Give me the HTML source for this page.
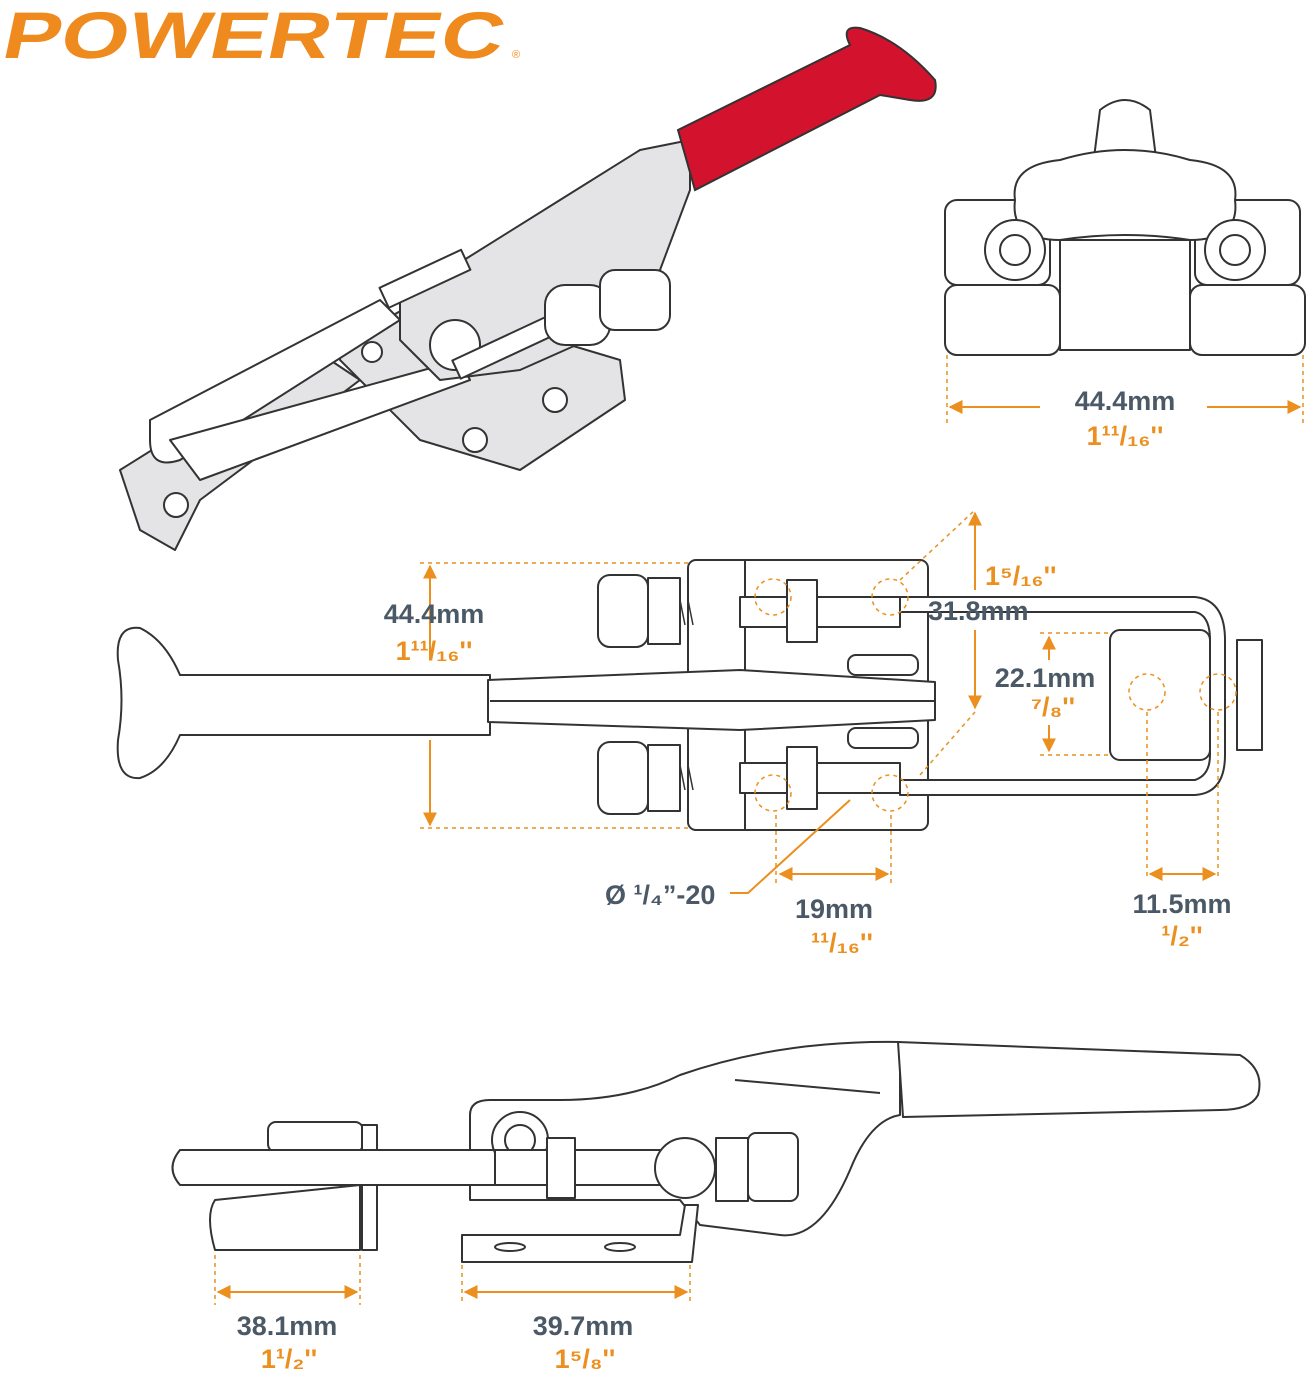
<!DOCTYPE html>
<html><head><meta charset="utf-8"><style>
html,body{margin:0;padding:0;background:#fff}
svg{display:block}
.g{fill:#4b5966;font-family:"Liberation Sans",sans-serif;font-weight:bold;font-size:27px}
.o{fill:#eb8f1e;font-family:"Liberation Sans",sans-serif;font-weight:bold;font-size:27px}
.dl{stroke:#eb8f1e;stroke-width:2;fill:none}
.dd{stroke:#eb8f1e;stroke-width:1.5;stroke-dasharray:4 4;fill:none}
.p{fill:#fff;stroke:#333;stroke-width:2;stroke-linejoin:round}
.s{fill:#e4e4e6;stroke:#333;stroke-width:2;stroke-linejoin:round}
</style></head><body>
<svg width="1306" height="1376" viewBox="0 0 1306 1376" xmlns="http://www.w3.org/2000/svg">
<defs>
<marker id="a" viewBox="0 0 10 10" refX="9" refY="5" markerWidth="7" markerHeight="7" orient="auto-start-reverse"><path d="M0,0L10,5L0,10z" fill="#eb8f1e"/></marker>
</defs>
<!-- logo -->
<text x="2" y="58" transform="skewX(-12) translate(10,0)" font-family="Liberation Sans,sans-serif" font-weight="bold" font-size="66" fill="#ef8a1e" textLength="500" lengthAdjust="spacingAndGlyphs">POWERTEC</text>
<text x="512" y="58" font-family="Liberation Sans,sans-serif" font-size="11" fill="#ef8a1e">®</text>

<!-- top-left 3D clamp -->
<polygon class="s" points="120,470 160,445 330,360 360,380 200,500 175,550 140,530"/>
<circle cx="176" cy="505" r="12" class="p"/>
<polygon class="s" points="340,345 420,300 620,360 625,400 520,470 420,440 340,360"/>
<circle cx="372" cy="352" r="10" class="p"/><circle cx="475" cy="440" r="12" class="p"/><circle cx="555" cy="400" r="12" class="p"/>
<path class="p" d="M150,420 L380,300 L400,320 L180,460 Q150,470 150,440z"/>
<path class="p" d="M170,440 L460,360 L470,380 L200,480z"/>
<path class="s" d="M400,300 L560,200 L640,150 L690,140 L690,190 L660,270 L610,330 L520,370 L440,380 L400,340z"/>
<circle cx="455" cy="345" r="25" class="p"/>
<rect x="380" y="270" width="90" height="22" class="p" transform="rotate(-25 420 280)"/>
<rect x="450" y="330" width="140" height="20" class="p" transform="rotate(-25 520 340)"/>
<rect x="545" y="285" width="65" height="60" rx="20" class="p"/>
<rect x="600" y="270" width="70" height="60" rx="15" class="p"/>
<path d="M678,130 L850,45 Q840,25 860,28 Q900,40 935,80 Q940,105 910,100 L880,95 L695,190 Z" fill="#d3122d" stroke="#333" stroke-width="2"/>

<!-- top-right end view -->
<rect x="945" y="200" width="105" height="85" rx="12" class="p"/>
<rect x="1195" y="200" width="105" height="85" rx="12" class="p"/>
<rect x="945" y="285" width="115" height="70" rx="12" class="p"/>
<rect x="1190" y="285" width="115" height="70" rx="12" class="p"/>
<rect x="1060" y="240" width="130" height="110" class="p"/>
<path class="p" d="M1090,190 L1100,110 Q1125,90 1150,110 L1160,190z"/>
<path class="p" d="M1015,200 Q1010,165 1060,160 Q1125,140 1190,160 Q1240,165 1235,200 Q1240,240 1190,240 Q1125,230 1060,240 Q1010,240 1015,200z"/>
<circle cx="1015" cy="250" r="30" class="p"/><circle cx="1015" cy="250" r="15" class="p"/>
<circle cx="1235" cy="250" r="30" class="p"/><circle cx="1235" cy="250" r="15" class="p"/>
<line class="dd" x1="947" y1="355" x2="947" y2="425"/><line class="dd" x1="1303" y1="355" x2="1303" y2="425"/>
<line class="dl" x1="1040" y1="407" x2="950" y2="407" marker-end="url(#a)"/>
<line class="dl" x1="1207" y1="407" x2="1300" y2="407" marker-end="url(#a)"/>
<text class="g" x="1125" y="410" text-anchor="middle">44.4mm</text>
<text class="o" x="1125" y="445" text-anchor="middle">1¹¹/₁₆''</text>

<!-- middle top view -->
<path class="p" d="M490,675 L180,675 Q165,640 140,628 Q115,625 118,660 Q125,700 118,740 Q115,780 140,778 Q165,770 180,735 L490,735z"/>
<rect x="688" y="560" width="240" height="270" rx="8" class="p"/>
<line x1="745" y1="560" x2="745" y2="830" stroke="#333" stroke-width="2"/>
<path class="p" d="M900,597 L1195,597 Q1225,600 1225,640 L1225,755 Q1225,793 1195,795 L900,795 L900,780 L1195,780 Q1210,775 1210,755 L1210,640 Q1210,615 1195,612 L900,612z"/>
<rect x="1110" y="630" width="100" height="130" rx="10" class="p"/>
<rect x="1237" y="640" width="25" height="110" class="p"/>
<path class="p" d="M488,680 L740,670 L935,682 L935,720 L740,730 L488,722z"/>
<line x1="490" y1="701" x2="935" y2="701" stroke="#333" stroke-width="2"/>
<rect x="848" y="655" width="70" height="20" rx="8" class="p"/><rect x="848" y="728" width="70" height="20" rx="8" class="p"/>
<rect x="598" y="575" width="50" height="72" rx="12" class="p"/><rect x="648" y="578" width="32" height="66" class="p"/>
<rect x="598" y="742" width="50" height="72" rx="12" class="p"/><rect x="648" y="745" width="32" height="66" class="p"/>
<rect x="740" y="597" width="160" height="30" class="p"/><rect x="787" y="580" width="30" height="62" class="p"/>
<rect x="740" y="763" width="160" height="30" class="p"/><rect x="787" y="747" width="30" height="62" class="p"/>
<g stroke="#333" stroke-width="1.5">
<path d="M680,600 l5,25 M688,600 l5,25"/><path d="M680,765 l5,25 M688,765 l5,25"/>
</g>
<g class="dd"><circle cx="773" cy="597" r="18"/><circle cx="890" cy="597" r="18"/><circle cx="773" cy="793" r="18"/><circle cx="890" cy="793" r="18"/>
<circle cx="1147" cy="692" r="18"/><circle cx="1218" cy="692" r="18"/></g>
<line class="dd" x1="420" y1="563" x2="690" y2="563"/><line class="dd" x1="420" y1="828" x2="690" y2="828"/>
<line class="dl" x1="430" y1="660" x2="430" y2="566" marker-end="url(#a)"/><line class="dl" x1="430" y1="740" x2="430" y2="825" marker-end="url(#a)"/>
<text class="g" x="434" y="623" text-anchor="middle">44.4mm</text><text class="o" x="434" y="660" text-anchor="middle">1¹¹/₁₆''</text>
<line class="dd" x1="900" y1="580" x2="975" y2="510"/><line class="dd" x1="920" y1="775" x2="975" y2="712"/>
<line class="dl" x1="975" y1="590" x2="975" y2="513" marker-end="url(#a)"/><line class="dl" x1="975" y1="630" x2="975" y2="708" marker-end="url(#a)"/>
<text class="o" x="985" y="585">1⁵/₁₆''</text><text class="g" x="928" y="620">31.8mm</text>
<line class="dd" x1="1040" y1="633" x2="1110" y2="633"/><line class="dd" x1="1040" y1="755" x2="1110" y2="755"/>
<line class="dl" x1="1049" y1="660" x2="1049" y2="637" marker-end="url(#a)"/><line class="dl" x1="1049" y1="725" x2="1049" y2="751" marker-end="url(#a)"/>
<text class="g" x="1045" y="687" text-anchor="middle">22.1mm</text><text class="o" x="1053" y="716" text-anchor="middle">⁷/₈''</text>
<line class="dd" x1="776" y1="815" x2="776" y2="885"/><line class="dd" x1="891" y1="815" x2="891" y2="885"/>
<line class="dl" x1="780" y1="874" x2="888" y2="874" marker-start="url(#a)" marker-end="url(#a)"/>
<text class="g" x="834" y="918" text-anchor="middle">19mm</text><text class="o" x="842" y="952" text-anchor="middle">¹¹/₁₆''</text>
<line class="dd" x1="1147" y1="712" x2="1147" y2="880"/><line class="dd" x1="1218" y1="712" x2="1218" y2="880"/>
<line class="dl" x1="1150" y1="874" x2="1215" y2="874" marker-start="url(#a)" marker-end="url(#a)"/>
<text class="g" x="1182" y="913" text-anchor="middle">11.5mm</text><text class="o" x="1182" y="945" text-anchor="middle">¹/₂''</text>
<polyline class="dl" stroke-width="1.5" points="730,893 748,893 850,800"/>
<text class="g" x="605" y="904">Ø ¹/₄”-20</text>

<!-- bottom side view -->
<path class="p" d="M215,1200 L360,1185 L360,1250 L215,1250 Q205,1215 215,1200z"/>
<rect x="268" y="1122" width="95" height="30" rx="8" class="p"/>
<rect x="362" y="1125" width="15" height="125" class="p"/>
<path class="p" d="M470,1115 Q470,1100 490,1100 L560,1100 Q630,1100 680,1075 Q780,1040 900,1042 L900,1115 Q870,1120 850,1170 Q820,1240 780,1235 L700,1225 L680,1200 L470,1200z"/>
<path class="p" d="M898,1042 L1240,1055 Q1265,1070 1258,1095 Q1250,1110 1220,1110 L903,1117z"/>
<line x1="735" y1="1080" x2="880" y2="1093" stroke="#333" stroke-width="2"/>
<path class="p" d="M462,1235 L680,1235 L685,1205 L698,1205 L692,1262 L462,1262z"/>
<ellipse cx="510" cy="1247" rx="15" ry="4" class="p"/><ellipse cx="620" cy="1247" rx="15" ry="4" class="p"/>
<path class="p" d="M180,1150 L500,1150 L500,1185 L180,1185 Q165,1168 180,1150z"/>
<circle cx="520" cy="1140" r="28" class="p"/><circle cx="520" cy="1140" r="15" class="p"/>
<rect x="495" y="1150" width="165" height="35" class="p"/>
<rect x="547" y="1138" width="28" height="60" class="p"/>
<circle cx="685" cy="1168" r="30" class="p"/>
<rect x="716" y="1138" width="32" height="63" class="p"/><rect x="748" y="1133" width="50" height="68" rx="8" class="p"/>
<line class="dd" x1="215" y1="1255" x2="215" y2="1305"/><line class="dd" x1="360" y1="1255" x2="360" y2="1305"/>
<line class="dl" x1="218" y1="1292" x2="357" y2="1292" marker-start="url(#a)" marker-end="url(#a)"/>
<text class="g" x="287" y="1335" text-anchor="middle">38.1mm</text><text class="o" x="289" y="1368" text-anchor="middle">1¹/₂''</text>
<line class="dd" x1="462" y1="1265" x2="462" y2="1305"/><line class="dd" x1="690" y1="1265" x2="690" y2="1305"/>
<line class="dl" x1="465" y1="1292" x2="687" y2="1292" marker-start="url(#a)" marker-end="url(#a)"/>
<text class="g" x="583" y="1335" text-anchor="middle">39.7mm</text><text class="o" x="585" y="1368" text-anchor="middle">1⁵/₈''</text>
</svg>
</body></html>
